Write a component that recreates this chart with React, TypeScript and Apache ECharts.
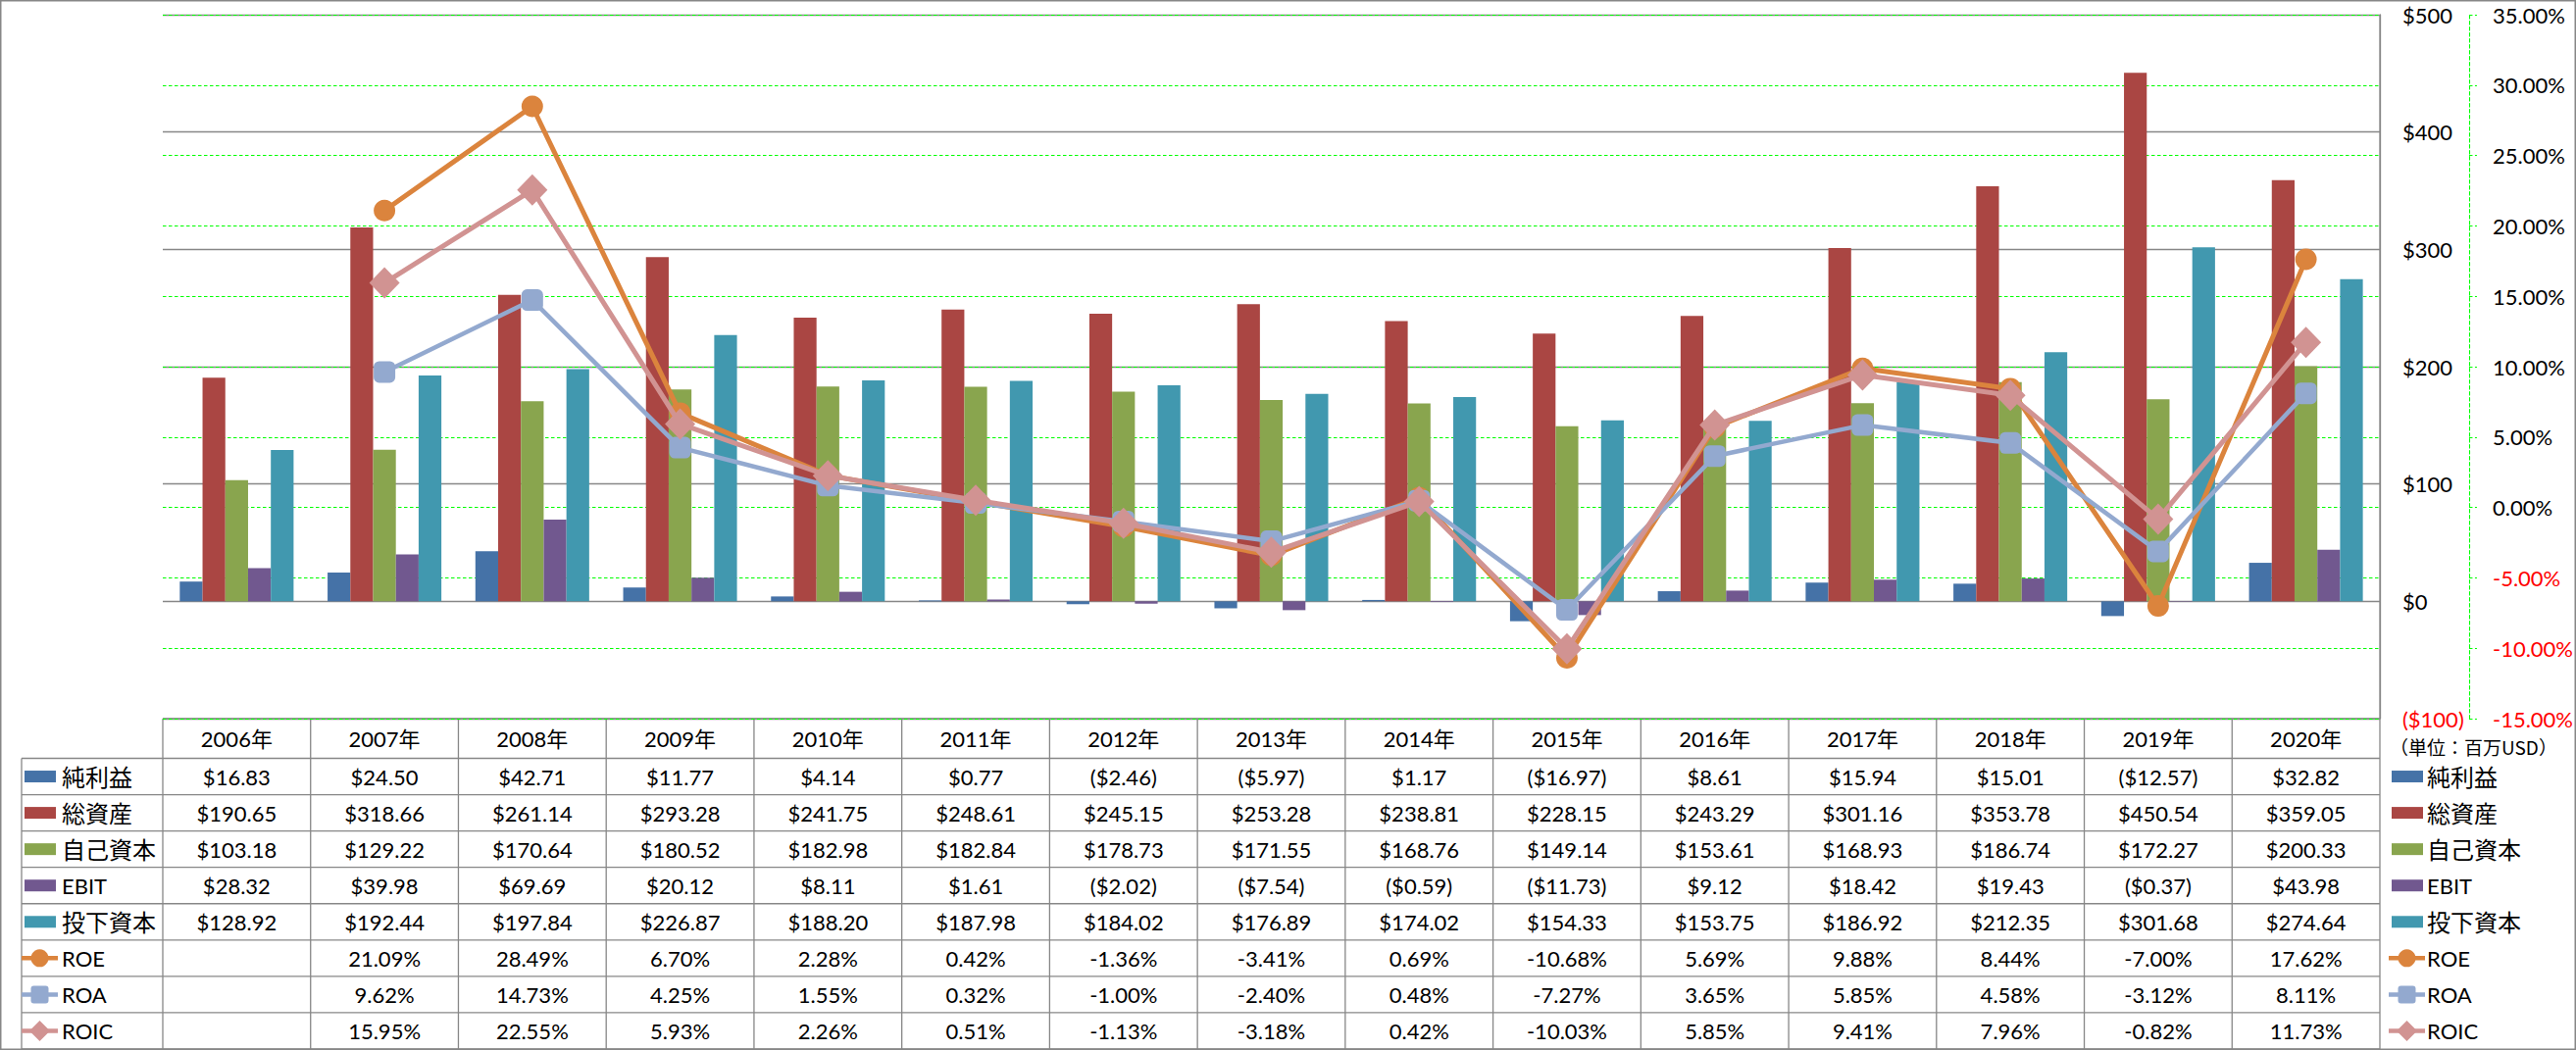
import React, { useEffect, useRef } from "react";
import * as echarts from "echarts";

const years = ["2006年", "2007年", "2008年", "2009年", "2010年", "2011年", "2012年", "2013年", "2014年", "2015年", "2016年", "2017年", "2018年", "2019年", "2020年"];

const netIncome = [16.83, 24.5, 42.71, 11.77, 4.14, 0.77, -2.46, -5.97, 1.17, -16.97, 8.61, 15.94, 15.01, -12.57, 32.82];
const totalAssets = [190.65, 318.66, 261.14, 293.28, 241.75, 248.61, 245.15, 253.28, 238.81, 228.15, 243.29, 301.16, 353.78, 450.54, 359.05];
const equity = [103.18, 129.22, 170.64, 180.52, 182.98, 182.84, 178.73, 171.55, 168.76, 149.14, 153.61, 168.93, 186.74, 172.27, 200.33];
const ebit = [28.32, 39.98, 69.69, 20.12, 8.11, 1.61, -2.02, -7.54, -0.59, -11.73, 9.12, 18.42, 19.43, -0.37, 43.98];
const investedCapital = [128.92, 192.44, 197.84, 226.87, 188.2, 187.98, 184.02, 176.89, 174.02, 154.33, 153.75, 186.92, 212.35, 301.68, 274.64];

const roe = [null, 21.09, 28.49, 6.7, 2.28, 0.42, -1.36, -3.41, 0.69, -10.68, 5.69, 9.88, 8.44, -7.0, 17.62];
const roa = [null, 9.62, 14.73, 4.25, 1.55, 0.32, -1.0, -2.4, 0.48, -7.27, 3.65, 5.85, 4.58, -3.12, 8.11];
const roic = [null, 15.95, 22.55, 5.93, 2.26, 0.51, -1.13, -3.18, 0.42, -10.03, 5.85, 9.41, 7.96, -0.82, 11.73];

const barNames = ["純利益", "総資産", "自己資本", "EBIT", "投下資本"];
const barData = [netIncome, totalAssets, equity, ebit, investedCapital];
const barColors = ["#4572A7", "#AA4643", "#89A54E", "#71588F", "#4198AF"];

const lineNames = ["ROE", "ROA", "ROIC"];
const lineData = [roe, roa, roic];
const lineColors = ["#DB843D", "#93A9CF", "#D19392"];
const lineSymbols = ["circle", "roundRect", "diamond"];

const unitNote = "（単位：百万USD）";

// layout
const W = 2627;
const H = 1071;
const GRID_L = 166;
const GRID_R = 2427;
const GRID_T = 15;
const GRID_B = 733;
const TABLE_TOP = 733;
const HEADER_B = 773.5;
const TABLE_BOTTOM = 1070;
const TABLE_LEFT = 22;
const ROW_H = (TABLE_BOTTOM - HEADER_B) / 8;
const COL_W = (GRID_R - GRID_L) / years.length;
const FONT = "Lato, 'Noto Sans CJK JP', sans-serif";
const GRID_GRAY = "#878787";
const GREEN = "#00ff00";
const DASH = [3.5, 2.5];

const fmtMoney = (v: number) => (v < 0 ? `($${Math.abs(v).toFixed(2)})` : `$${v.toFixed(2)}`);
const fmtPct = (v: number | null) => (v == null ? "" : `${v.toFixed(2)}%`);

function textEl(x: number, y: number, text: string, align: string, size = 22, color = "#000", family = FONT) {
  return {
    type: "text",
    silent: true,
    x,
    y,
    style: {
      text,
      fill: color,
      fontSize: size,
      fontFamily: family,
      align,
      verticalAlign: "middle",
      textAlign: align,
      textVerticalAlign: "middle",
    },
  };
}

function lineEl(x1: number, y1: number, x2: number, y2: number, color = GRID_GRAY, w = 1.3) {
  return { type: "line", silent: true, shape: { x1, y1, x2, y2 }, style: { stroke: color, lineWidth: w } };
}

function legendIcon(kind: "bar" | "line", idx: number, x0: number, cy: number) {
  const els: any[] = [];
  if (kind === "bar") {
    els.push({ type: "rect", silent: true, shape: { x: x0, y: cy - 6, width: 32, height: 12 }, style: { fill: barColors[idx] } });
  } else {
    const c = lineColors[idx];
    const mx = x0 + 15.5;
    els.push(lineEl(x0 - 3, cy, x0 + 34, cy, c, 4.5));
    const s = lineSymbols[idx];
    if (s === "circle") {
      els.push({ type: "circle", silent: true, shape: { cx: mx, cy, r: 9 }, style: { fill: c } });
    } else if (s === "roundRect") {
      els.push({ type: "rect", silent: true, shape: { x: mx - 9, y: cy - 9, width: 18, height: 18, r: 3 }, style: { fill: c } });
    } else {
      els.push({
        type: "polygon",
        silent: true,
        shape: { points: [[mx, cy - 10.5], [mx + 10.5, cy], [mx, cy + 10.5], [mx - 10.5, cy]] },
        style: { fill: c },
      });
    }
  }
  return els;
}

function buildGraphics() {
  const els: any[] = [];
  // outer border
  els.push({ type: "rect", silent: true, shape: { x: 0.75, y: 0.75, width: W - 1.5, height: H - 1.5 }, style: { fill: "none", stroke: GRID_GRAY, lineWidth: 1.5 } });

  // table horizontal lines
  els.push(lineEl(GRID_L, TABLE_TOP, GRID_R, TABLE_TOP));
  for (let i = 0; i <= 8; i++) {
    const y = HEADER_B + i * ROW_H;
    els.push(lineEl(TABLE_LEFT, y, GRID_R, y));
  }
  // vertical lines
  els.push(lineEl(TABLE_LEFT, HEADER_B, TABLE_LEFT, TABLE_BOTTOM));
  for (let k = 0; k <= years.length; k++) {
    const x = GRID_L + k * COL_W;
    els.push(lineEl(x, k === years.length ? GRID_T : TABLE_TOP, x, TABLE_BOTTOM));
  }

  // header
  years.forEach((yr, k) => {
    els.push(textEl(GRID_L + (k + 0.5) * COL_W, (TABLE_TOP + HEADER_B) / 2, yr, "center"));
  });

  // rows
  const rows: { name: string; kind: "bar" | "line"; idx: number; cells: string[] }[] = [];
  barNames.forEach((n, i) => rows.push({ name: n, kind: "bar", idx: i, cells: barData[i].map(fmtMoney) }));
  lineNames.forEach((n, i) => rows.push({ name: n, kind: "line", idx: i, cells: lineData[i].map(fmtPct) }));

  rows.forEach((r, ri) => {
    const cy = HEADER_B + (ri + 0.5) * ROW_H;
    const isCJK = /[^\x00-\x7F]/.test(r.name);
    // table legend
    els.push(...legendIcon(r.kind, r.idx, 25, cy));
    els.push(textEl(63, cy, r.name, "left", isCJK ? 24 : 22));
    // right legend
    els.push(...legendIcon(r.kind, r.idx, 2439, cy));
    els.push(textEl(2475, cy, r.name, "left", isCJK ? 24 : 22));
    r.cells.forEach((c, k) => {
      if (c) els.push(textEl(GRID_L + (k + 0.5) * COL_W, cy, c, "center"));
    });
  });

  els.push(textEl(2437, 761, unitNote, "left", 19, "#000", "'Noto Sans CJK JP', sans-serif"));
  return els;
}

export default function App() {
  const ref = useRef<HTMLDivElement>(null);
  useEffect(() => {
    const chart = echarts.init(ref.current!, null, { renderer: "svg" });
    const labelRich = {
      pos: { color: "#000", fontSize: 22, fontFamily: FONT },
      neg: { color: "#ff0000", fontSize: 22, fontFamily: FONT },
    };
    const option: any = {
      animation: false,
      backgroundColor: "#ffffff",
      grid: { left: GRID_L, top: GRID_T, right: W - GRID_R, bottom: H - GRID_B, containLabel: false },
      xAxis: {
        type: "category",
        data: years,
        axisLine: { show: false },
        axisTick: { show: false },
        axisLabel: { show: false },
        splitLine: { show: false },
      },
      yAxis: [
        {
          type: "value",
          position: "right",
          min: -100,
          max: 500,
          interval: 100,
          axisLine: { show: true, lineStyle: { color: GRID_GRAY, width: 1.3 } },
          axisTick: { show: false },
          axisLabel: {
            margin: 23,
            formatter: (v: number) => (v < 0 ? `{neg|($${Math.abs(v)})}` : `{pos|$${v}}`),
            rich: labelRich,
          },
          splitLine: { show: true, lineStyle: { color: GRID_GRAY, width: 1.3, type: "solid" } },
        },
        {
          type: "value",
          position: "right",
          offset: 91,
          min: -15,
          max: 35,
          interval: 5,
          axisLine: { show: true, lineStyle: { color: GREEN, width: 1.1, type: DASH } },
          axisTick: { show: true, inside: false, length: 8, lineStyle: { color: GREEN, width: 1.1, type: DASH } },
          axisLabel: {
            margin: 24,
            formatter: (v: number) => (v < 0 ? `{neg|${v.toFixed(2)}%}` : `{pos|${v.toFixed(2)}%}`),
            rich: labelRich,
          },
          splitLine: { show: true, lineStyle: { color: GREEN, width: 1.1, type: DASH } },
        },
      ],
      series: [
        ...barNames.map((n, i) => ({
          name: n,
          type: "bar",
          yAxisIndex: 0,
          data: barData[i],
          barGap: "0%",
          barCategoryGap: "23%",
          itemStyle: { color: barColors[i] },
        })),
        ...lineNames.map((n, i) => ({
          name: n,
          type: "line",
          yAxisIndex: 1,
          data: lineData[i],
          symbol: lineSymbols[i],
          symbolSize: lineSymbols[i] === "diamond" ? [31, 32] : 22,
          showSymbol: true,
          connectNulls: false,
          lineStyle: { color: lineColors[i], width: i === 1 ? 4.5 : 5 },
          itemStyle: { color: lineColors[i] },
          z: 3 + i,
        })),
      ],
      graphic: { elements: buildGraphics() },
    };
    chart.setOption(option);
    return () => chart.dispose();
  }, []);
  return (
    <div
      ref={ref}
      style={{ position: "fixed", left: 0, top: 0, width: W, height: H, background: "#fff" }}
    />
  );
}
